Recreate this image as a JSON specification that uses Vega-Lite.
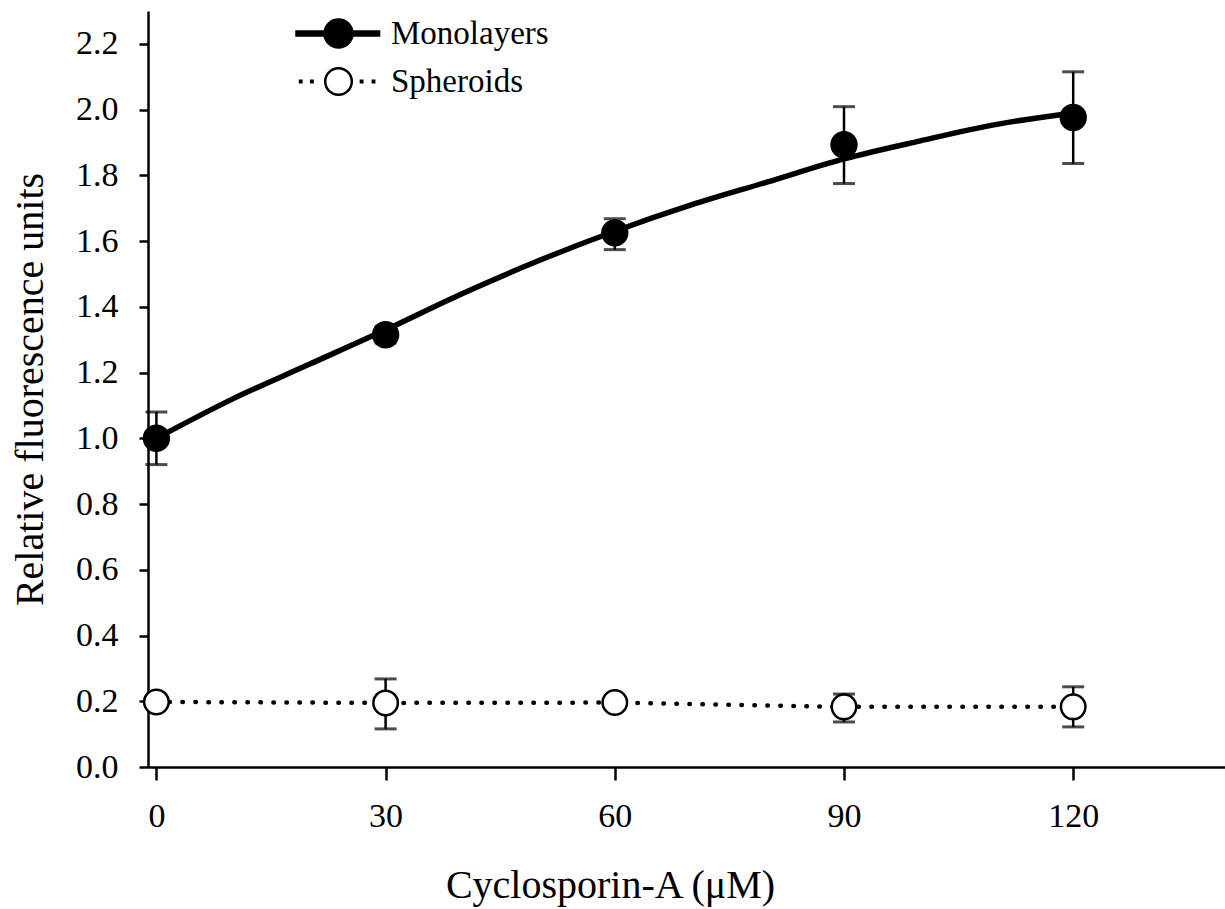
{
  "$schema": "https://vega.github.io/schema/vega-lite/v6.json",
  "autosize": "none",
  "width": 1078,
  "height": 756,
  "padding": {"left": 148, "top": 11, "right": 0, "bottom": 142},
  "background": "white",
  "config": {
    "view": {"stroke": null},
    "font": "Liberation Serif",
    "axis": {
      "domainColor": "black", "domainWidth": 2.5, "tickColor": "black", "tickWidth": 2.5,
      "labelColor": "black", "titleColor": "black", "labelFont": "Liberation Serif", "titleFont": "Liberation Serif",
      "titleFontWeight": "normal", "grid": false, "labelFontSize": 34, "titleFontSize": 40
    },
    "legend": {"labelFont": "Liberation Serif"}
  },
  "datasets": {
    "curve": [
      {"conc": 0, "value": 1.0},
      {"conc": 10, "value": 1.12},
      {"conc": 20, "value": 1.225},
      {"conc": 30, "value": 1.33},
      {"conc": 40, "value": 1.44},
      {"conc": 50, "value": 1.54},
      {"conc": 60, "value": 1.63},
      {"conc": 70, "value": 1.71},
      {"conc": 80, "value": 1.78},
      {"conc": 90, "value": 1.85},
      {"conc": 100, "value": 1.905},
      {"conc": 110, "value": 1.955},
      {"conc": 120, "value": 1.99}
    ],
    "points": [
      {"series": "Monolayers", "conc": 0, "mean": 1.0, "lo": 0.92, "hi": 1.08},
      {"series": "Monolayers", "conc": 30, "mean": 1.315, "lo": 1.29, "hi": 1.34},
      {"series": "Monolayers", "conc": 60, "mean": 1.625, "lo": 1.574, "hi": 1.668},
      {"series": "Monolayers", "conc": 90, "mean": 1.893, "lo": 1.775, "hi": 2.009},
      {"series": "Monolayers", "conc": 120, "mean": 1.976, "lo": 1.836, "hi": 2.115},
      {"series": "Spheroids", "conc": 0, "mean": 0.198, "lo": 0.18, "hi": 0.215},
      {"series": "Spheroids", "conc": 30, "mean": 0.195, "lo": 0.116, "hi": 0.268},
      {"series": "Spheroids", "conc": 60, "mean": 0.196, "lo": 0.18, "hi": 0.212},
      {"series": "Spheroids", "conc": 90, "mean": 0.183, "lo": 0.137, "hi": 0.222},
      {"series": "Spheroids", "conc": 120, "mean": 0.183, "lo": 0.122, "hi": 0.244}
    ]
  },
  "layer": [
    {
      "data": {"name": "points"},
      "mark": {"type": "rule", "color": "black", "strokeWidth": 2.5},
      "encoding": {
        "x": {"field": "conc", "type": "quantitative", "scale": {"domain": [-1.1, 140], "nice": false, "zero": false},
          "axis": {"values": [0, 30, 60, 90, 120], "tickSize": 13, "labelPadding": 19, "labelFlush": false,
            "labelFont": "Liberation Serif", "titleFont": "Liberation Serif",
            "title": "Cyclosporin-A (μM)", "titleX": 462, "titleY": 118, "titleBaseline": "middle", "titleAlign": "center"}},
        "y": {"field": "lo", "type": "quantitative", "scale": {"domain": [0, 2.3], "nice": false, "zero": false},
          "axis": {
            "values": [0, 0.1, 0.2, 0.3, 0.4, 0.5, 0.6, 0.7, 0.8, 0.9, 1.0, 1.1, 1.2, 1.3, 1.4, 1.5, 1.6, 1.7, 1.8, 1.9, 2.0, 2.1, 2.2],
            "labelExpr": "round(datum.value * 10) % 2 === 0 ? format(datum.value, '.1f') : ''",
            "labelOverlap": false, "labelFlush": false,
            "labelFont": "Liberation Serif", "titleFont": "Liberation Serif",
            "tickSize": 9, "labelPadding": 21,
            "title": "Relative fluorescence units", "titleX": -118, "titleY": 378, "titleBaseline": "middle", "titleAlign": "center", "titleAngle": -90,
            "encode": {"ticks": {"update": {"x2": {"signal": "round(datum.value * 10) % 2 === 0 ? -9 : -5"}}}}
          }},
        "y2": {"field": "hi"}
      }
    },
    {
      "data": {"name": "points"},
      "mark": {"type": "tick", "orient": "horizontal", "color": "black", "size": 22, "thickness": 3},
      "encoding": {
        "x": {"field": "conc", "type": "quantitative"},
        "y": {"field": "lo", "type": "quantitative"}
      }
    },
    {
      "data": {"name": "points"},
      "mark": {"type": "tick", "orient": "horizontal", "color": "black", "size": 22, "thickness": 3},
      "encoding": {
        "x": {"field": "conc", "type": "quantitative"},
        "y": {"field": "hi", "type": "quantitative"}
      }
    },
    {
      "data": {"name": "curve"},
      "mark": {"type": "line", "color": "black", "strokeWidth": 5.5, "interpolate": "monotone"},
      "encoding": {
        "x": {"field": "conc", "type": "quantitative"},
        "y": {"field": "value", "type": "quantitative"}
      }
    },
    {
      "data": {"name": "points"},
      "transform": [{"filter": "datum.series === 'Spheroids'"}],
      "mark": {"type": "line", "color": "black", "strokeWidth": 4.5, "strokeDash": [0.5, 12.5], "strokeCap": "round"},
      "encoding": {
        "x": {"field": "conc", "type": "quantitative"},
        "y": {"field": "mean", "type": "quantitative"}
      }
    },
    {
      "data": {"name": "points"},
      "transform": [{"filter": "datum.series === 'Monolayers'"}],
      "mark": {"type": "point", "shape": "circle", "filled": true, "fill": "black", "stroke": "black", "strokeWidth": 2.5, "size": 620, "opacity": 1},
      "encoding": {
        "x": {"field": "conc", "type": "quantitative"},
        "y": {"field": "mean", "type": "quantitative"}
      }
    },
    {
      "data": {"name": "points"},
      "transform": [{"filter": "datum.series === 'Spheroids'"}],
      "mark": {"type": "point", "shape": "circle", "filled": true, "fill": "white", "stroke": "black", "strokeWidth": 2.5, "size": 600, "opacity": 1},
      "encoding": {
        "x": {"field": "conc", "type": "quantitative"},
        "y": {"field": "mean", "type": "quantitative"}
      }
    },
    {
      "data": {"name": "points"},
      "transform": [{"filter": "false"}],
      "mark": {"type": "point", "strokeWidth": 2.5, "opacity": 1},
      "encoding": {
        "x": {"field": "conc", "type": "quantitative"},
        "y": {"field": "mean", "type": "quantitative"},
        "fill": {
          "field": "series", "type": "nominal",
          "scale": {"domain": ["Monolayers", "Spheroids"], "range": ["black", "white"]},
          "legend": {
            "title": null, "orient": "none", "legendX": 174, "legendY": 6, "padding": 0,
            "labelFont": "Liberation Serif", "labelFontSize": 33, "labelColor": "black",
            "labelOffset": 36, "rowPadding": 10, "symbolSize": 784, "symbolStrokeWidth": 2.5
          }
        },
        "stroke": {
          "field": "series", "type": "nominal",
          "scale": {"domain": ["Monolayers", "Spheroids"], "range": ["black", "black"]},
          "legend": {
            "title": null, "orient": "none", "legendX": 174, "legendY": 6, "padding": 0,
            "labelFont": "Liberation Serif", "labelFontSize": 33, "labelColor": "black",
            "labelOffset": 36, "rowPadding": 10, "symbolSize": 784, "symbolStrokeWidth": 2.5
          }
        },
        "shape": {
          "field": "series", "type": "nominal",
          "scale": {"domain": ["Monolayers", "Spheroids"], "range": [
            "M-3,-0.14H-0.98V0.14H-3Z M0.98,-0.14H2.9V0.14H0.98Z M-1,0A1,1 0 1,1 1,0A1,1 0 1,1 -1,0Z",
            "M-2.75,-0.05H-2.65V0.05H-2.75Z M-1.95,-0.05H-1.85V0.05H-1.95Z M1.6,-0.05H1.7V0.05H1.6Z M2.45,-0.05H2.55V0.05H2.45Z M-0.95,0A0.95,0.95 0 1,1 0.95,0A0.95,0.95 0 1,1 -0.95,0Z"
          ]},
          "legend": {
            "title": null, "orient": "none", "legendX": 174, "legendY": 6, "padding": 0,
            "labelFont": "Liberation Serif", "labelFontSize": 33, "labelColor": "black",
            "labelOffset": 36, "rowPadding": 10, "symbolSize": 784, "symbolStrokeWidth": 2.5
          }
        }
      }
    }
  ]
}
